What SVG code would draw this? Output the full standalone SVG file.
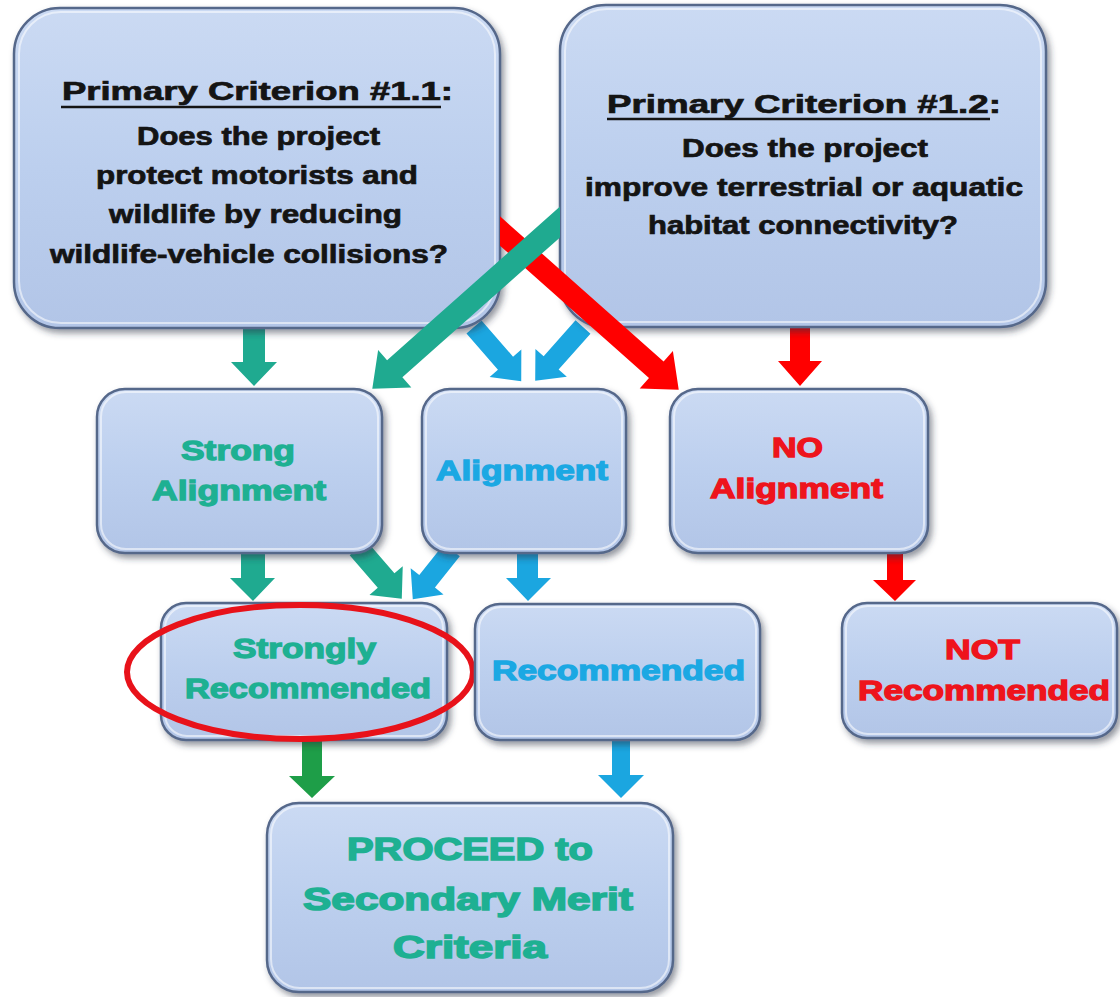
<svg xmlns="http://www.w3.org/2000/svg" width="1120" height="997" viewBox="0 0 1120 997">
<defs>
<linearGradient id="boxfill" x1="0" y1="0" x2="0" y2="1">
<stop offset="0" stop-color="#cbdaf3"/>
<stop offset="0.5" stop-color="#bccfee"/>
<stop offset="1" stop-color="#b2c5e7"/>
</linearGradient>
<filter id="shadow" x="-10%" y="-10%" width="125%" height="130%">
<feDropShadow dx="3" dy="4" stdDeviation="3" flood-color="#2a3240" flood-opacity="0.5"/>
</filter>
<clipPath id="clipRed"><rect x="500" y="0" width="620" height="997"/></clipPath>
<clipPath id="clipTeal"><rect x="0" y="0" width="560" height="997"/></clipPath>
<style>
.box{fill:url(#boxfill);stroke:#55678a;stroke-width:2.5;filter:url(#shadow);}
.hi{fill:none;stroke:#ffffff;stroke-opacity:0.55;stroke-width:2;}
.q{font-family:"Liberation Sans",Arial,sans-serif;font-weight:bold;font-size:25px;fill:#141414;stroke:#141414;stroke-width:0.7;}
.lbl{font-family:"Liberation Sans",Arial,sans-serif;font-weight:bold;font-size:28px;stroke-width:1.3;}
.big{font-family:"Liberation Sans",Arial,sans-serif;font-weight:bold;font-size:31px;stroke-width:1.5;}
.teal{fill:#1eb092;stroke:#1eb092;}
.blue{fill:#1ba8e3;stroke:#1ba8e3;}
.red{fill:#ee141c;stroke:#ee141c;}
.aTeal{fill:#1faa90;}
.aBlue{fill:#1ba6e0;}
.aRed{fill:#ff0000;}
.aGreen{fill:#1e9e48;}
.ul{stroke:#141414;stroke-width:2.5;}
</style>
</defs>

<g id="connectors-under">
<polygon class="aTeal" points="243,326 265,326 265,362 277,362 254,386 231,362 243,362"/>
<polygon class="aRed" points="790,326 810,326 810,361 822,361 800,386 778,361 790,361"/>
<path class="aBlue" d="M0,-10 H48 V-21 L72,0 L48,21 V10 H0 Z" transform="translate(474,327) rotate(49)"/>
<path class="aBlue" d="M0,-10 H48 V-21 L72,0 L48,21 V10 H0 Z" transform="translate(583,327) rotate(131.6)"/>
<polygon class="aTeal" points="241,551 265,551 265,578 275,578 253,601 230,578 241,578"/>
<path class="aTeal" d="M0,-11 H43 V-22 L67,0 L43,22 V11 H0 Z" transform="translate(358,548) rotate(49.2)"/>
<path class="aBlue" d="M0,-10 H40 V-21 L63,0 L40,21 V10 H0 Z" transform="translate(452,550) rotate(128.5)"/>
<polygon class="aBlue" points="517,551 538,551 538,578 551,578 528,601 506,578 517,578"/>
<polygon class="aRed" points="887,551 903,551 903,580 916,580 895,601 873,580 887,580"/>
<polygon class="aGreen" points="302,736 322,736 322,776 335,776 312,798 289,776 302,776"/>
<polygon class="aBlue" points="612,736 630,736 630,775 644,775 621,798 598,775 612,775"/>
</g>

<g id="node-criterion-1-1">
<rect class="box" x="14" y="8" width="486" height="320" rx="46"/>
<rect class="hi" x="19" y="12" width="476" height="311" rx="42"/>
<text class="q" x="62" y="100" textLength="391" lengthAdjust="spacingAndGlyphs">Primary Criterion #1.1:</text>
<line class="ul" x1="61" y1="107" x2="441" y2="107"/>
<text class="q" x="137" y="145" textLength="243" lengthAdjust="spacingAndGlyphs">Does the project</text>
<text class="q" x="96" y="184" textLength="322" lengthAdjust="spacingAndGlyphs">protect motorists and</text>
<text class="q" x="109" y="223" textLength="293" lengthAdjust="spacingAndGlyphs">wildlife by reducing</text>
<text class="q" x="50" y="263" textLength="398" lengthAdjust="spacingAndGlyphs">wildlife-vehicle  collisions?</text>
</g>

<g id="node-criterion-1-2">
<rect class="box" x="560" y="5" width="486" height="322" rx="46"/>
<rect class="hi" x="565" y="9" width="476" height="313" rx="42"/>
<text class="q" x="607" y="113" textLength="394" lengthAdjust="spacingAndGlyphs">Primary Criterion #1.2:</text>
<line class="ul" x1="607" y1="119" x2="990" y2="119"/>
<text class="q" x="682" y="157" textLength="246" lengthAdjust="spacingAndGlyphs">Does the project</text>
<text class="q" x="585" y="196" textLength="438" lengthAdjust="spacingAndGlyphs">improve terrestrial or aquatic</text>
<text class="q" x="648" y="234" textLength="310" lengthAdjust="spacingAndGlyphs">habitat connectivity?</text>
</g>

<g id="connectors-over">
<g clip-path="url(#clipRed)">
<path class="aRed" d="M-20,-11 H209 V-25 L239,0 L209,25 V11 H-20 Z" transform="translate(500,231) rotate(41.6)"/>
</g>
<g clip-path="url(#clipTeal)">
<path class="aTeal" d="M-20,-11.5 H221 V-25 L251,0 L221,25 V11.5 H-20 Z" transform="translate(560,222) rotate(138.4)"/>
</g>
</g>

<g id="node-strong-alignment">
<rect class="box" x="97" y="389" width="285" height="164" rx="28"/>
<rect class="hi" x="101" y="392" width="277" height="157" rx="25"/>
<text class="lbl teal" x="181" y="460" textLength="114" lengthAdjust="spacingAndGlyphs">Strong</text>
<text class="lbl teal" x="152" y="500" textLength="174" lengthAdjust="spacingAndGlyphs">Alignment</text>
</g>

<g id="node-alignment">
<rect class="box" x="422" y="389" width="204" height="164" rx="28"/>
<rect class="hi" x="426" y="392" width="196" height="157" rx="25"/>
<text class="lbl blue" x="436" y="480" textLength="172" lengthAdjust="spacingAndGlyphs">Alignment</text>
</g>

<g id="node-no-alignment">
<rect class="box" x="670" y="389" width="258" height="164" rx="28"/>
<rect class="hi" x="674" y="392" width="250" height="157" rx="25"/>
<text class="lbl red" x="772" y="457" textLength="51" lengthAdjust="spacingAndGlyphs">NO</text>
<text class="lbl red" x="710" y="498" textLength="173" lengthAdjust="spacingAndGlyphs">Alignment</text>
</g>

<g id="node-strongly-recommended">
<rect class="box" x="161" y="603" width="286" height="137" rx="25"/>
<rect class="hi" x="165" y="606" width="278" height="130" rx="22"/>
<text class="lbl teal" x="233" y="658" textLength="143" lengthAdjust="spacingAndGlyphs">Strongly</text>
<text class="lbl teal" x="185" y="698" textLength="246" lengthAdjust="spacingAndGlyphs">Recommended</text>
<ellipse cx="300" cy="672" rx="173" ry="67" fill="none" stroke="#e8121a" stroke-width="6"/>
</g>

<g id="node-recommended">
<rect class="box" x="475" y="604" width="285" height="136" rx="25"/>
<rect class="hi" x="479" y="607" width="277" height="129" rx="22"/>
<text class="lbl blue" x="492" y="680" textLength="253" lengthAdjust="spacingAndGlyphs">Recommended</text>
</g>

<g id="node-not-recommended">
<rect class="box" x="842" y="603" width="275" height="135" rx="25"/>
<rect class="hi" x="846" y="606" width="267" height="128" rx="22"/>
<text class="lbl red" x="945" y="659" textLength="75" lengthAdjust="spacingAndGlyphs">NOT</text>
<text class="lbl red" x="858" y="700" textLength="252" lengthAdjust="spacingAndGlyphs">Recommended</text>
</g>

<g id="node-proceed">
<rect class="box" x="267" y="803" width="406" height="189" rx="32"/>
<rect class="hi" x="271" y="806" width="398" height="182" rx="29"/>
<text class="big teal" x="347" y="860" textLength="246" lengthAdjust="spacingAndGlyphs">PROCEED to</text>
<text class="big teal" x="303" y="910" textLength="330" lengthAdjust="spacingAndGlyphs">Secondary Merit</text>
<text class="big teal" x="393" y="958" textLength="154" lengthAdjust="spacingAndGlyphs">Criteria</text>
</g>
</svg>
